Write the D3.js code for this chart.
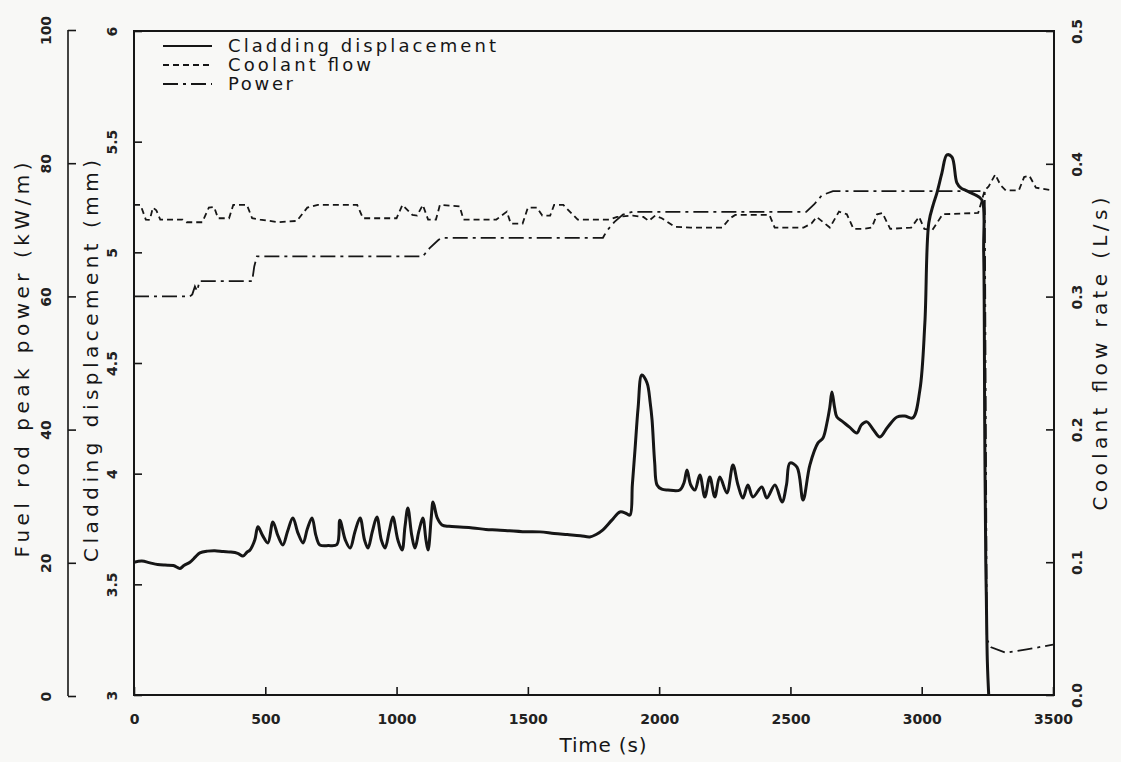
<!DOCTYPE html>
<html><head><meta charset="utf-8">
<script src="https://cdn.jsdelivr.net/npm/d3@7"></script>
<style>body{margin:0;background:#f8f8f6;} svg{display:block;}</style>
</head><body><svg id="c" width="1121" height="762"></svg>
<script>
// ---------- data ----------
const timeTicks  = [0, 500, 1000, 1500, 2000, 2500, 3000, 3500];
const dispTicks  = [3, 3.5, 4, 4.5, 5, 5.5, 6];
const powerTicks = [0, 20, 40, 60, 80, 100];
const flowTicks  = [0.0, 0.1, 0.2, 0.3, 0.4, 0.5];

const legendLabels = ["Cladding displacement", "Coolant flow", "Power"];

// Cladding displacement (mm)
const dispTime = [0,30,61,90,118,150,175,190,213,235,251,280,308,340,366,395,415,430,442,460,472,490,510,529,548,567,585,605,625,644,660,678,693,708,740,773,784,805,823,842,861,878,891,908,925,942,956,972,986,1005,1021,1032,1043,1058,1070,1085,1100,1112,1120,1132,1139,1155,1173,1200,1241,1290,1340,1382,1430,1480,1546,1600,1650,1700,1736,1760,1786,1820,1851,1875,1889,1898,1908,1920,1934,1954,1966,1973,1983,1992,2010,2033,2079,2095,2106,2120,2136,2155,2174,2193,2212,2231,2258,2281,2300,2319,2338,2357,2391,2410,2441,2468,2485,2498,2525,2548,2574,2605,2624,2639,2650,2658,2668,2677,2700,2725,2753,2770,2791,2815,2841,2870,2906,2935,2966,2993,3012,3027,3045,3058,3077,3096,3115,3134,3150,3164,3185,3203,3229,3236,3240,3244,3246,3250,3256];
const dispValue = [3.600,3.605,3.597,3.590,3.587,3.585,3.572,3.585,3.600,3.625,3.642,3.650,3.652,3.648,3.646,3.640,3.628,3.645,3.655,3.700,3.760,3.720,3.687,3.782,3.720,3.678,3.740,3.800,3.730,3.687,3.750,3.800,3.720,3.678,3.675,3.680,3.790,3.700,3.664,3.740,3.800,3.700,3.664,3.740,3.804,3.700,3.664,3.740,3.804,3.700,3.655,3.760,3.845,3.720,3.664,3.740,3.800,3.700,3.655,3.800,3.872,3.800,3.768,3.762,3.759,3.755,3.748,3.746,3.742,3.738,3.737,3.730,3.725,3.720,3.714,3.725,3.746,3.790,3.827,3.820,3.813,3.950,4.107,4.300,4.446,4.410,4.320,4.243,4.050,3.949,3.930,3.926,3.926,3.960,4.017,3.950,3.926,3.994,3.895,3.985,3.895,3.985,3.913,4.039,3.950,3.890,3.949,3.895,3.940,3.890,3.949,3.872,3.950,4.048,4.030,3.881,4.039,4.139,4.161,4.229,4.300,4.369,4.300,4.256,4.234,4.210,4.184,4.220,4.234,4.200,4.166,4.210,4.256,4.260,4.252,4.378,4.681,5.133,5.220,5.269,5.359,5.440,5.431,5.314,5.290,5.282,5.270,5.260,5.237,5.000,4.200,3.600,3.450,3.150,2.980];

// Coolant flow rate (L/s)
const flowTime = [0,25,45,60,72,85,100,185,200,260,285,305,320,362,378,430,450,480,550,620,660,700,850,872,1000,1022,1060,1078,1100,1120,1150,1165,1240,1255,1380,1420,1435,1480,1500,1535,1555,1585,1600,1635,1690,1810,1840,1900,1940,1960,1985,2010,2060,2120,2240,2270,2290,2420,2440,2550,2580,2600,2625,2650,2685,2715,2740,2780,2810,2830,2850,2880,2960,2990,3010,3040,3060,3080,3215,3240,3255,3280,3300,3320,3370,3390,3410,3435,3500];
const flowValue = [0.369,0.369,0.358,0.3577,0.367,0.365,0.358,0.358,0.356,0.356,0.367,0.3675,0.359,0.359,0.369,0.369,0.359,0.358,0.356,0.357,0.367,0.369,0.369,0.359,0.359,0.369,0.3615,0.361,0.369,0.358,0.358,0.369,0.368,0.358,0.358,0.364,0.355,0.355,0.367,0.367,0.361,0.361,0.369,0.369,0.358,0.358,0.360,0.361,0.360,0.357,0.361,0.359,0.3525,0.352,0.352,0.359,0.3615,0.3615,0.352,0.352,0.355,0.360,0.356,0.352,0.364,0.362,0.351,0.351,0.352,0.362,0.363,0.351,0.352,0.360,0.351,0.350,0.356,0.362,0.363,0.380,0.383,0.392,0.384,0.380,0.380,0.390,0.391,0.382,0.380];

// Fuel rod peak power (kW/m)
const powerTime  = [0,213,222,232,240,250,450,458,468,1100,1125,1160,1177,1786,1800,1830,1862,1900,2560,2590,2620,2662,3240,3248,3265,3320,3400,3500];
const powerValue = [60,60,60.3,61.5,60.8,62.3,62.3,64.5,66,66,67.2,68.5,68.8,68.8,69.8,71.2,72.3,72.7,72.7,73.8,75.2,75.8,75.8,8.5,7.3,6.5,7.0,7.7];

// ---------- drawing ----------
const svg = d3.select("#c");
const L = 134, R = 1054, T = 31, B = 695;
const ink = "#161616";
const FONT = "'DejaVu Sans', sans-serif";

const x = d3.scaleLinear().domain([0, 3500]).range([L, 1053]);
const yDisp = d3.scaleLinear().domain([3, 6]).range([B, T]);
const yPow = d3.scaleLinear().domain([0, 100]).range([696, 30]);
const yFlow = d3.scaleLinear().domain([0, 0.5]).range([B, T]);

svg.append("rect").attr("width", 1121).attr("height", 762).attr("fill", "#f8f8f6");

svg.append("defs").append("clipPath").attr("id", "clip")
  .append("rect").attr("x", L).attr("y", T).attr("width", R - L).attr("height", B - T);

function styleAxis(g, rotateLabels, offset) {
  g.select(".domain").remove();
  g.selectAll(".tick line").attr("stroke", ink).attr("stroke-width", 1.6);
  g.selectAll(".tick text").attr("fill", "#222").attr("font-family", FONT)
    .attr("font-size", 14).attr("font-weight", "bold");
  if (rotateLabels) {
    g.selectAll(".tick text").attr("transform", "rotate(-90)")
      .attr("text-anchor", "middle").attr("x", 0).attr("y", offset).attr("dy", "0.36em");
  }
}

// bottom axis
svg.append("g").attr("transform", `translate(0,${B})`)
  .call(d3.axisBottom(x).tickValues(timeTicks).tickFormat(d3.format("d"))
    .tickSizeInner(-8).tickSizeOuter(0).tickPadding(19))
  .call(g => styleAxis(g, false));

// inner left axis: cladding displacement
svg.append("g").attr("transform", `translate(${L},0)`)
  .call(d3.axisLeft(yDisp).tickValues(dispTicks).tickFormat(d => d)
    .tickSizeInner(-8).tickSizeOuter(0))
  .call(g => styleAxis(g, true, -22));

// outer left axis: power
const gp = svg.append("g").attr("transform", `translate(68,0)`)
  .call(d3.axisLeft(yPow).tickValues(powerTicks).tickFormat(d => d)
    .tickSizeInner(-8).tickSizeOuter(0))
  .call(g => styleAxis(g, true, -22));
gp.append("line").attr("x1", 0).attr("x2", 0).attr("y1", yPow(100)).attr("y2", yPow(0))
  .attr("stroke", ink).attr("stroke-width", 1.6);

// right axis: coolant flow
svg.append("g").attr("transform", `translate(${R},0)`)
  .call(d3.axisRight(yFlow).tickValues(flowTicks).tickFormat(d3.format(".1f"))
    .tickSizeInner(-8).tickSizeOuter(0))
  .call(g => styleAxis(g, true, 23));

// frame
svg.append("rect").attr("x", L).attr("y", T).attr("width", R - L).attr("height", B - T)
  .attr("fill", "none").attr("stroke", ink).attr("stroke-width", 2);

// series
const plot = svg.append("g").attr("clip-path", "url(#clip)");
const lineDisp = d3.line().x(d => x(d[0])).y(d => yDisp(d[1])).curve(d3.curveCatmullRom.alpha(0.5));
const linePow = d3.line().x(d => x(d[0])).y(d => yPow(d[1]));
const lineFlow = d3.line().x(d => x(d[0])).y(d => yFlow(d[1]));

const styles = {
  disp: {w: 3, dash: null},
  flow: {w: 1.8, dash: "6,4"},
  pow:  {w: 1.8, dash: "15,5,3,5"}
};

plot.append("path").datum(d3.zip(flowTime, flowValue)).attr("d", lineFlow)
  .attr("fill", "none").attr("stroke", ink).attr("stroke-width", styles.flow.w)
  .attr("stroke-dasharray", styles.flow.dash);
plot.append("path").datum(d3.zip(powerTime, powerValue)).attr("d", linePow)
  .attr("fill", "none").attr("stroke", ink).attr("stroke-width", styles.pow.w)
  .attr("stroke-dasharray", styles.pow.dash);
plot.append("path").datum(d3.zip(dispTime, dispValue)).attr("d", lineDisp)
  .attr("fill", "none").attr("stroke", ink).attr("stroke-width", styles.disp.w)
  .attr("stroke-linejoin", "round");

// legend
const legendY = [46, 65, 84];
const legendLen = [268, 143, 65];
const legendStyle = [styles.disp, styles.flow, styles.pow];
legendLabels.forEach((lab, i) => {
  svg.append("line").attr("x1", 163).attr("x2", 212).attr("y1", legendY[i]).attr("y2", legendY[i])
    .attr("stroke", ink).attr("stroke-width", 1.8)
    .attr("stroke-dasharray", legendStyle[i].dash);
  svg.append("text").attr("x", 228).attr("y", legendY[i]).attr("dy", "0.36em")
    .attr("font-family", FONT).attr("font-size", 18).attr("fill", ink)
    .attr("textLength", legendLen[i]).attr("lengthAdjust", "spacing").text(lab);
});

// axis titles
function vTitle(txt, cx, cy, len) {
  svg.append("text").attr("transform", `translate(${cx},${cy}) rotate(-90)`)
    .attr("text-anchor", "middle").attr("dy", "0.36em")
    .attr("font-family", FONT).attr("font-size", 20).attr("fill", ink)
    .attr("textLength", len).attr("lengthAdjust", "spacing").text(txt);
}
vTitle("Fuel rod peak power (kW/m)", 22, 360, 395);
vTitle("Cladding displacement (mm)", 91, 361, 402);
vTitle("Coolant flow rate (L/s)", 1100, 354, 313);

svg.append("text").attr("x", 603).attr("y", 745).attr("text-anchor", "middle").attr("dy", "0.36em")
  .attr("font-family", FONT).attr("font-size", 20).attr("fill", ink)
  .attr("textLength", 87).attr("lengthAdjust", "spacing").text("Time (s)");
</script>
</body></html>
